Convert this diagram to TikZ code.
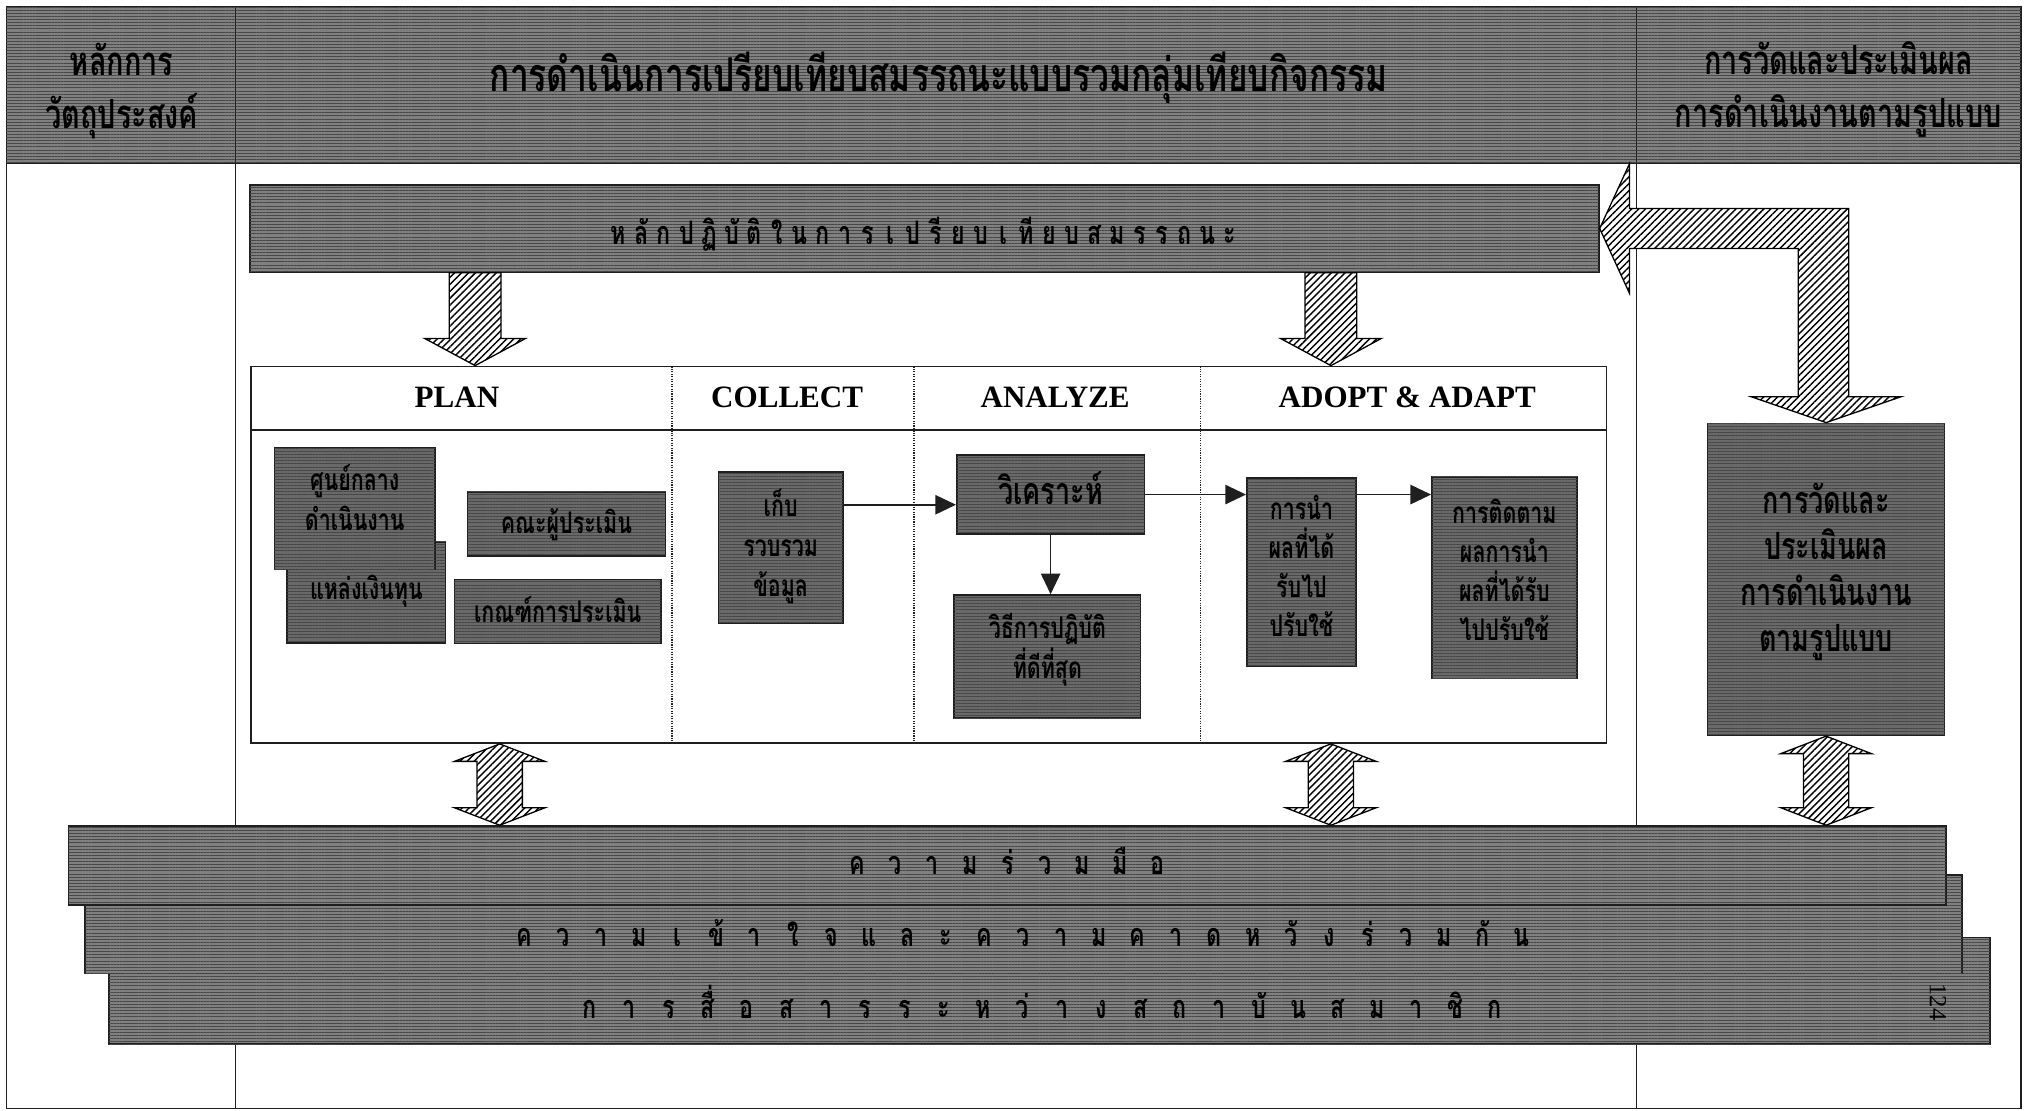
\documentclass[tikz,border=0pt]{standalone}
\usepackage{fontspec}
\setmainfont{Liberation Serif}
\newfontfamily\thai[Script=Thai, FakeStretch=0.72]{Loma}
\usetikzlibrary{arrows.meta,patterns.meta,calc}

\definecolor{rule}{gray}{0.12}
\definecolor{cellgray}{gray}{0.50}
\definecolor{boxgray}{gray}{0.41}
\definecolor{grain}{gray}{0.28}

\newcommand\thfont[2]{\thai\bfseries\fontsize{#1}{#2}\selectfont}
% clusters set at an even pitch
\newcommand\spreadtext[2]{\foreach \ch in {#2}{\makebox[#1]{\ch}}}

% hatched block arrow pointing down: #1 top centre, #2 tip, #3 shaft half width, #4 head half width, #5 head length
\newcommand\hatchdown[5]{%
  \draw[hatch] let \p1=(#1), \p2=(#2) in
    (\x1-#3,\y1) -- (\x1+#3,\y1) -- (\x1+#3,\y2+#5) -- (\x1+#4,\y2+#5) -- (\x1,\y2)
    -- (\x1-#4,\y2+#5) -- (\x1-#3,\y2+#5) -- cycle;}
% hatched double block arrow: #1 upper tip, #2 lower tip, #3 shaft half width, #4 head half width, #5 head length
\newcommand\hatchboth[5]{%
  \draw[hatch] let \p1=(#1), \p2=(#2) in
    (\x1,\y1) -- (\x1+#4,\y1-#5) -- (\x1+#3,\y1-#5) -- (\x1+#3,\y2+#5) -- (\x1+#4,\y2+#5)
    -- (\x1,\y2) -- (\x1-#4,\y2+#5) -- (\x1-#3,\y2+#5) -- (\x1-#3,\y1-#5) -- (\x1-#4,\y1-#5) -- cycle;}

\begin{document}
\begin{tikzpicture}[x=1pt,y=-1pt,
  grainy/.style={postaction={pattern={Lines[angle=0,distance=2.4pt,line width=0.5pt]}, pattern color=grain}},
  cell/.style={fill=cellgray, grainy, draw=rule, line width=1pt, inner sep=0pt},
  darkbox/.style={fill=boxgray, grainy, draw=rule, line width=1.2pt, inner sep=0pt},
  headtxt/.style={font=\thfont{31}{41}, align=center},
  boxtxt/.style={font=\thfont{23}{31}, align=center},
  bartxt/.style={font=\thfont{25}{25}},
  coltitle/.style={font=\fontsize{24}{24}\selectfont\bfseries},
  hatch/.style={draw=black, line width=1pt, preaction={fill=white},
    pattern={Lines[angle=45,distance=3.8pt,line width=1.1pt]}},
  flow/.style={-{Triangle[length=16pt,width=15pt]}, line width=1.2pt, draw=rule},
  divider/.style={draw=rule, densely dotted, line width=0.9pt}
]
\useasboundingbox (0,0) rectangle (1568,857.4);
\fill[white] (0,0) rectangle (1568,857.4);

% table frame
\draw[rule, line width=1pt] (5,5) rectangle (1561,856);
\draw[rule, line width=1pt] (182,5) -- (182,856);
\draw[rule, line width=1pt] (1264,5) -- (1264,856);

% header row
\node[cell, minimum width=177pt, minimum height=121pt] (hL) at (93.5,65.5) {};
\node[headtxt] (hLt) at (94,70) {หลักการ\\วัตถุประสงค์};
\node[cell, minimum width=1082pt, minimum height=121pt] (hM) at (723,65.5) {};
\node[headtxt, font=\thfont{36}{41}] (hMt) at (725,60) {การดำเนินการเปรียบเทียบสมรรถนะแบบรวมกลุ่มเทียบกิจกรรม};
\node[cell, minimum width=297pt, minimum height=121pt] (hR) at (1412.5,65.5) {};
\node[headtxt] (hRt) at (1420,69) {การวัดและประเมินผล\\การดำเนินงานตามรูปแบบ};

% principles bar
\node[cell, line width=1.2pt, minimum width=1042pt, minimum height=67pt] (bar) at (714,176.5) {};
\node[bartxt] (bart) at (714,181) {\spreadtext{17.5pt}{ห,ลั,ก,ป,ฏิ,บั,ติ,ใ,น,ก,า,ร,เ,ป,รี,ย,บ,เ,ที,ย,บ,ส,ม,ร,ร,ถ,น,ะ}};

% process panel
\node[draw=rule, line width=1.2pt, fill=white, minimum width=1047pt, minimum height=291pt, inner sep=0pt] (panel) at (717.5,428.5) {};
\draw[rule, line width=1.2pt] (194,332) -- (1241,332);
\draw[divider] (519,283) -- (519,574);
\draw[divider] (706,283) -- (706,574);
\draw[divider] (927,283) -- (927,574);
\node[coltitle] (tPlan) at (353,307) {PLAN};
\node[coltitle] (tCollect) at (608,307) {COLLECT};
\node[coltitle] (tAnalyze) at (815,307) {ANALYZE};
\node[coltitle] (tAdopt) at (1087,307) {ADOPT \& ADAPT};

% PLAN
\node[darkbox, minimum width=122.5pt, minimum height=78pt] (b2) at (282.75,457.5) {};
\node[boxtxt] (b2t) at (283,457) {แหล่งเงินทุน};
\node[darkbox, minimum width=124pt, minimum height=94pt] (b1) at (274,393) {};
\node[boxtxt] (b1t) at (274,384) {ศูนย์กลาง\\ดำเนินงาน};
\node[darkbox, minimum width=153pt, minimum height=49.5pt] (b3) at (437.5,404.75) {};
\node[boxtxt] (b3t) at (437.5,405) {คณะผู้ประเมิน};
\node[darkbox, minimum width=159.6pt, minimum height=49.5pt] (b4) at (430.8,472.25) {};
\node[boxtxt] (b4t) at (430.8,471) {เกณฑ์การประเมิน};

% COLLECT
\node[darkbox, minimum width=96pt, minimum height=116.4pt] (c1) at (603,422.8) {};
\node[boxtxt] (c1t) at (603,422) {เก็บ\\รวบรวม\\ข้อมูล};

% ANALYZE
\node[darkbox, minimum width=145pt, minimum height=61pt] (a1) at (811.5,382) {};
\node[boxtxt, font=\thfont{29}{31}] (a1t) at (811.5,377) {วิเคราะห์};
\node[darkbox, minimum width=144pt, minimum height=95pt] (a2) at (809,507.1) {};
\node[boxtxt] (a2t) at (809,502) {วิธีการปฏิบัติ\\ที่ดีที่สุด};

% ADOPT & ADAPT
\node[darkbox, minimum width=84.5pt, minimum height=145.5pt] (d1) at (1005.25,441.75) {};
\node[boxtxt, font=\thfont{23}{30}] (d1t) at (1005.25,437) {การนำ\\ผลที่ได้\\รับไป\\ปรับใช้};
\node[darkbox, minimum width=112pt, minimum height=155.7pt] (d2) at (1162,446.15) {};
\node[boxtxt, font=\thfont{23}{30}] (d2t) at (1162,440) {การติดตาม\\ผลการนำ\\ผลที่ได้รับ\\ไปปรับใช้};

% evaluation box
\node[darkbox, minimum width=183pt, minimum height=241pt] (r1) at (1410.5,447.5) {};
\node[font=\thfont{29}{35.5}, align=center] (r1t) at (1410.5,442) {การวัดและ\\ประเมินผล\\การดำเนินงาน\\ตามรูปแบบ};

% flow inside the panel
\coordinate (c1out) at ($(c1.north east)!0.22!(c1.south east)$);
\draw[flow] (c1out) -- (c1out -| a1.west);
\draw[flow] (a1.south) -- (a1.south |- a2.north);
\draw[flow] (a1.east) -- (a1.east -| d1.west);
\draw[flow] (a1.east -| d1.east) -- (a1.east -| d2.west);

% foundation bars
\node[cell, line width=1.2pt, minimum width=1453pt, minimum height=82.5pt] (f3) at (810.5,765.25) {};
\node[cell, line width=1.2pt, minimum width=1450pt, minimum height=76pt] (f2) at (790.5,714) {};
\node[cell, line width=1.2pt, minimum width=1450pt, minimum height=61pt] (f1) at (778,668.5) {};
\node[bartxt] (f1t) at (778,665) {\spreadtext{29pt}{ค,ว,า,ม,ร่,ว,ม,มื,อ}};
\node[bartxt] (f2t) at (790,721) {\spreadtext{29.6pt}{ค,ว,า,ม,เ,ข้,า,ใ,จ,แ,ล,ะ,ค,ว,า,ม,ค,า,ด,ห,วั,ง,ร่,ว,ม,กั,น}};
\node[bartxt] (f3t) at (805,774) {\spreadtext{30.4pt}{ก,า,ร,สื่,อ,ส,า,ร,ร,ะ,ห,ว่,า,ง,ส,ถ,า,บั,น,ส,ม,า,ชิ,ก}};
\node[rotate=-90, font=\fontsize{19}{19}\selectfont] (pg) at (1497,774) {124};

% hatched block arrows
\coordinate (planx) at (367,0);
\coordinate (adoptx) at (1028,0);
\coordinate (splitx) at (386,0);
\hatchdown{bar.south -| planx}{panel.north -| planx}{20pt}{39pt}{21pt}
\hatchdown{bar.south -| adoptx}{panel.north -| adoptx}{20pt}{39pt}{21pt}
\hatchboth{panel.south -| splitx}{f1.north -| splitx}{17.5pt}{35pt}{13.5pt}
\hatchboth{panel.south -| adoptx}{f1.north -| adoptx}{17.5pt}{35pt}{13.5pt}
\hatchboth{r1.south}{f1.north -| r1.south}{17.5pt}{35pt}{13.5pt}

% feedback from the evaluation box to the principles bar
\draw[hatch] let \p1=(bar.east), \p2=(r1.north) in
  (\p1) -- (\x1+23pt,\y1+50pt) -- (\x1+23pt,\y1+15.5pt) -- (\x2+17.5pt,\y1+15.5pt)
  -- (\x2+17.5pt,\y2+20pt) -- (\x2+58pt,\y2+20pt) -- (\p2) -- (\x2-58pt,\y2+20pt)
  -- (\x2-21.5pt,\y2+20pt) -- (\x2-21.5pt,\y1-15.5pt) -- (\x1+23pt,\y1-15.5pt)
  -- (\x1+23pt,\y1-50pt) -- cycle;
\end{tikzpicture}
\end{document}
